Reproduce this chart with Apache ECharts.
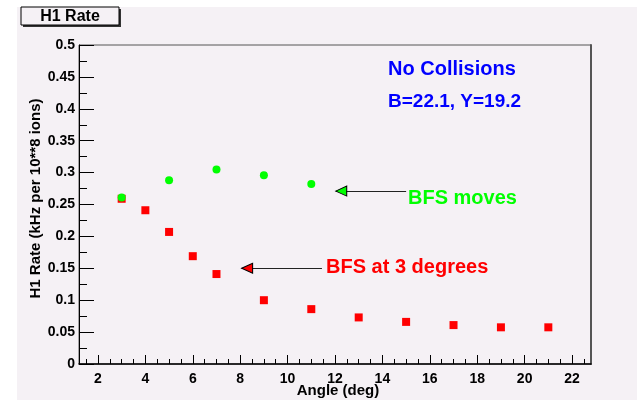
<!DOCTYPE html>
<html>
<head>
<meta charset="utf-8">
<script src="https://cdn.jsdelivr.net/npm/echarts@6/dist/echarts.min.js"></script>
<style>
html,body{margin:0;padding:0;background:#ffffff;}
#chart{width:637px;height:400px;}
</style>
</head>
<body>
<div id="chart"></div>
<script>
// ---- data ----
var redPoints = [[3,0.259],[4,0.241],[5,0.207],[6,0.169],[7,0.141],[9,0.100],[11,0.086],[13,0.073],[15,0.066],[17,0.061],[19,0.0575],[21,0.0575]];
var greenPoints = [[3,0.261],[5,0.288],[7,0.305],[9,0.296],[11,0.282]];
var xMajorTicks = [2,4,6,8,10,12,14,16,18,20,22];
var xMinorTicks = [1.5,2.5,3,3.5,4.5,5,5.5,6.5,7,7.5,8.5,9,9.5,10.5,11,11.5,12.5,13,13.5,14.5,15,15.5,16.5,17,17.5,18.5,19,19.5,20.5,21,21.5,22.5];
var redArrow = [[8.06,0.15],[11.45,0.15]];
var greenArrow = [[12.03,0.271],[15.0,0.271]];

var FONT = '"Liberation Sans", Arial, Helvetica, sans-serif';
var BG = '#f5f1f5';
var GRID = {left:79, top:45, right:46, bottom:36};
var triLeft = 'path://M0,5 L10,0 L10,10 Z';

function arrowMarks(arrow, fill){
  return {
    markLine: {
      silent: true, symbol: ['none','none'], animation:false,
      label:{show:false},
      lineStyle:{color:'#222', width:1, type:'solid'},
      emphasis:{disabled:true},
      data: [[{coord: arrow[0]},{coord: arrow[1]}]]
    },
    markPoint: {
      silent: true, animation:false,
      symbol: triLeft, symbolSize:[11,10], symbolOffset:[5.5,0],
      itemStyle:{color:fill, borderColor:'#000', borderWidth:1},
      label:{show:false},
      data:[{coord: arrow[0]}]
    }
  };
}

var chart = echarts.init(document.getElementById('chart'), null, {renderer:'canvas'});
var redMarks = arrowMarks(redArrow, '#ff0000');
var greenMarks = arrowMarks(greenArrow, '#00ff00');

var option = {
  animation: false,
  backgroundColor: 'transparent',
  textStyle: {fontFamily: FONT},
  graphic: [
    {type:'rect', z:-100, silent:true, shape:{x:17, y:7, width:620, height:393}, style:{fill:BG}},
    {type:'rect', z:10, silent:true, shape:{x:23, y:9, width:98, height:18}, style:{fill:'#333'}},
    {type:'rect', z:11, silent:true, shape:{x:21, y:7, width:98, height:18}, style:{fill:BG, stroke:'#000', lineWidth:1}},
    {type:'text', z:12, silent:true, style:{x:70, y:16.5, text:'H1 Rate', align:'center', verticalAlign:'middle', font:'bold 16px ' + FONT, fill:'#000'}},
    {type:'text', z:12, silent:true, style:{x:388, y:69, text:'No Collisions', align:'left', verticalAlign:'middle', font:'bold 20px ' + FONT, fill:'#0000ff'}},
    {type:'text', z:12, silent:true, style:{x:388, y:101.5, text:'B=22.1, Y=19.2', align:'left', verticalAlign:'middle', font:'bold 19px ' + FONT, fill:'#0000ff'}},
    {type:'text', z:12, silent:true, style:{x:408, y:198.5, text:'BFS moves', align:'left', verticalAlign:'middle', font:'bold 20px ' + FONT, fill:'#00ff00'}},
    {type:'text', z:12, silent:true, style:{x:326, y:267, text:'BFS at 3 degrees', align:'left', verticalAlign:'middle', font:'bold 20px ' + FONT, fill:'#ff0000'}}
  ],
  grid: [
    {left:GRID.left, top:GRID.top, right:GRID.right, bottom:GRID.bottom, containLabel:false, outerBoundsMode:'none', show:true, backgroundColor:'transparent', borderColor:'#555', borderWidth:1},
    {left:GRID.left, top:GRID.top, right:GRID.right, bottom:GRID.bottom, containLabel:false, outerBoundsMode:'none', show:false}
  ],
  xAxis: [
    {
      type:'value', gridIndex:0, min:1.2, max:22.8,
      name:'Angle (deg)', nameLocation:'middle', nameGap:19, nameMoveOverlap:false,
      nameTextStyle:{fontFamily:FONT, fontSize:15, fontWeight:'bold', color:'#000', padding:[0,0,0,6]},
      axisLine:{show:true, onZero:false, lineStyle:{color:'#000', width:1.5}},
      axisTick:{show:true, inside:true, length:9, customValues:xMajorTicks, lineStyle:{color:'#000', width:1}},
      axisLabel:{show:true, customValues:xMajorTicks, margin:8, fontFamily:FONT, fontSize:14, fontWeight:'bold', color:'#000'},
      splitLine:{show:false}
    },
    {
      type:'value', gridIndex:1, min:1.2, max:22.8,
      axisLine:{show:false},
      axisTick:{show:true, inside:true, length:5, customValues:xMinorTicks, lineStyle:{color:'#000', width:1}},
      axisLabel:{show:false},
      splitLine:{show:false}
    }
  ],
  yAxis: [
    {
      type:'value', gridIndex:0, min:0, max:0.5, interval:0.05,
      name:'H1 Rate (kHz per 10**8 ions)', nameLocation:'middle', nameGap:36, nameMoveOverlap:false,
      nameTextStyle:{fontFamily:FONT, fontSize:15, fontWeight:'bold', color:'#000', padding:[0,0,0,12]},
      axisLine:{show:true, onZero:false, lineStyle:{color:'#000', width:1}},
      axisTick:{show:true, inside:true, length:15, lineStyle:{color:'#000', width:1}},
      minorTick:{show:true, splitNumber:2, length:8, lineStyle:{color:'#000', width:1}},
      axisLabel:{margin:4, fontFamily:FONT, fontSize:14, fontWeight:'bold', color:'#000'},
      splitLine:{show:false}, minorSplitLine:{show:false}
    },
    {
      type:'value', gridIndex:0, position:'right', min:0, max:0.5,
      axisLine:{show:true, onZero:false, lineStyle:{color:'#555', width:2}},
      axisTick:{show:false}, axisLabel:{show:false}, splitLine:{show:false}
    },
    {type:'value', gridIndex:1, min:0, max:1, show:false}
  ],
  series: [
    {
      name:'BFS at 3 degrees', type:'scatter', xAxisIndex:0, yAxisIndex:0,
      symbol:'rect', symbolSize:8, itemStyle:{color:'#ff0000', opacity:1},
      data: redPoints, silent:true,
      markLine: redMarks.markLine, markPoint: redMarks.markPoint
    },
    {
      name:'BFS moves', type:'scatter', xAxisIndex:0, yAxisIndex:0,
      symbol:'circle', symbolSize:8, itemStyle:{color:'#00ff00', opacity:1},
      data: greenPoints, silent:true,
      markLine: greenMarks.markLine, markPoint: greenMarks.markPoint
    }
  ]
};
chart.setOption(option);
</script>
</body>
</html>
